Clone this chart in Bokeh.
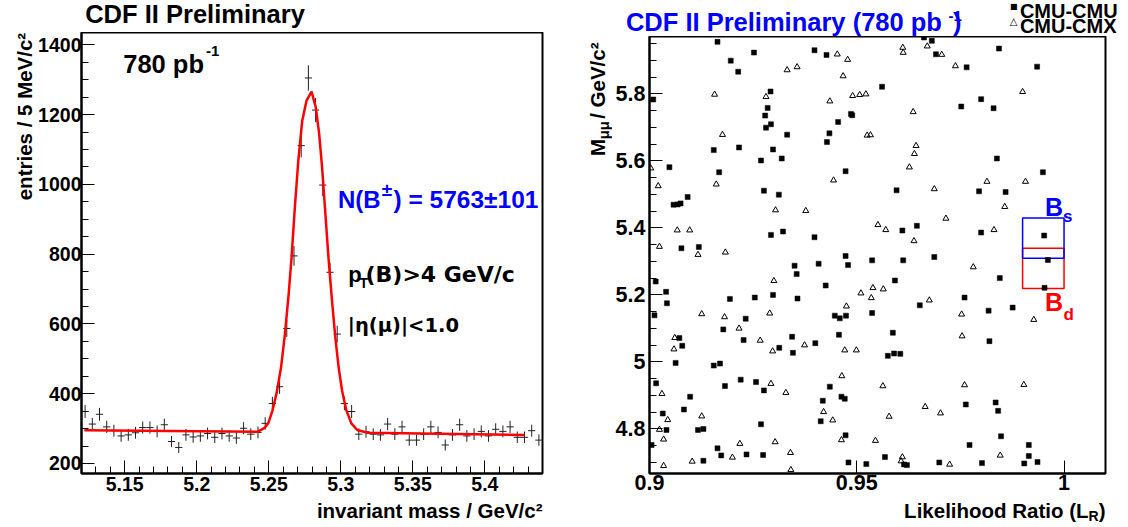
import numpy as np
from bokeh.plotting import figure
from bokeh.models import Range1d, FixedTicker, CustomJSTickFormatter, Label
from bokeh.layouts import row, column
from bokeh.embed import file_html
from bokeh.resources import INLINE

# ---------------- left panel data: B+ -> J/psi K+ mass histogram ----------------
bin_lo, bin_hi, bin_w = 5.12, 5.44, 0.005
counts = [349, 313, 341, 305, 294, 279, 282, 288, 303, 303, 292, 311, 263, 246, 282, 276,
          279, 286, 275, 286, 279, 273, 301, 284, 289, 315, 372, 420, 587, 795, 1111, 1305,
          1213, 998, 748, 571, 372, 349, 284, 291, 284, 282, 313, 284, 305, 267, 267, 284,
          305, 289, 253, 282, 311, 279, 284, 292, 279, 298, 292, 305, 275, 275, 294, 267]
fit_mass = [5.1220, 5.2422, 5.2474, 5.2498, 5.2525, 5.2555, 5.2585, 5.2612, 5.2638, 5.2658,
            5.2681, 5.2705, 5.2732, 5.2762, 5.2797, 5.2826, 5.2850, 5.2870, 5.2893, 5.2916,
            5.2939, 5.2962, 5.2985, 5.3009, 5.3038, 5.3073, 5.3114, 5.3188, 5.4276]
fit_val = [295.5, 290.8, 303, 317, 351, 403, 475, 571, 685, 790,
           934, 1068, 1182, 1240, 1266, 1221, 1144, 1049, 915, 781,
           666, 561, 475, 408, 353, 315, 296, 288, 282]
left_x_ticks = [5.15, 5.2, 5.25, 5.3, 5.35, 5.4]
left_y_ticks = [200, 400, 600, 800, 1000, 1200, 1400]

# ---------------- right panel data: M_mumu vs likelihood ratio ----------------
sq_lr = [0.9164, 0.9196, 0.9214, 0.9252, 0.9398, 0.9427, 0.9662, 0.9681, 0.9691, 0.9765, 0.9843, 0.9935,
         0.9009, 0.9292, 0.9561, 0.9800, 0.9285, 0.9279, 0.9293, 0.9281, 0.9486, 0.9489, 0.9455, 0.9752, 0.9830,
         0.9434, 0.9332, 0.9428, 0.9155, 0.9216, 0.9298, 0.9269, 0.9319, 0.9048, 0.9168, 0.9473, 0.9838, 0.9949,
         0.9276, 0.9312, 0.9596, 0.9795, 0.9859, 0.9092, 0.9058, 0.9068, 0.9075, 0.9293, 0.9322, 0.9398, 0.9610,
         0.9645, 0.9800, 0.9952, 0.9077, 0.9119, 0.9473, 0.9537, 0.9612, 0.9687, 0.9961, 0.9408, 0.9350, 0.9479,
         0.9355, 0.9845, 0.9015, 0.9592, 0.9040, 0.9425, 0.9298, 0.9194, 0.9254, 0.9357, 0.9760, 0.9953, 0.9042,
         0.9652, 0.9818, 0.9876, 0.9012, 0.9232, 0.9447, 0.9474, 0.9459, 0.9537, 0.9178, 0.9072, 0.9227, 0.9344,
         0.9457, 0.9587, 0.9400, 0.9820, 0.9079, 0.9313, 0.9346, 0.9575, 0.9590, 0.9605, 0.9063, 0.9155, 0.9170,
         0.9016, 0.9182, 0.9220, 0.9257, 0.9276, 0.9435, 0.9098, 0.9463, 0.9471, 0.9418, 0.9835, 0.9763, 0.9083,
         0.9841, 0.9032, 0.9413, 0.9269, 0.9041, 0.9117, 0.9130, 0.9473, 0.9848, 0.9005, 0.9164, 0.9772, 0.9915,
         0.9173, 0.9234, 0.9274, 0.9130, 0.9568, 0.9915, 0.9480, 0.9523, 0.9614, 0.9621, 0.9699, 0.9802, 0.9904, 0.9936]
sq_m = [5.955, 5.899, 5.866, 5.923, 5.930, 5.916, 5.968, 5.958, 5.918, 5.879, 5.935, 5.881,
        5.783, 5.807, 5.821, 5.784, 5.758, 5.735, 5.709, 5.699, 5.740, 5.736, 5.716, 5.762, 5.757,
        5.682, 5.678, 5.656, 5.632, 5.640, 5.634, 5.601, 5.607, 5.581, 5.566, 5.569, 5.607, 5.566,
        5.511, 5.499, 5.512, 5.509, 5.507, 5.492, 5.469, 5.470, 5.473, 5.379, 5.389, 5.372, 5.392,
        5.406, 5.386, 5.377, 5.339, 5.343, 5.316, 5.303, 5.303, 5.313, 5.304, 5.293, 5.287, 5.289,
        5.262, 5.250, 5.240, 5.243, 5.209, 5.228, 5.200, 5.188, 5.192, 5.189, 5.192, 5.221, 5.175,
        5.169, 5.153, 5.162, 5.139, 5.129, 5.138, 5.138, 5.130, 5.146, 5.097, 5.071, 5.065, 5.075,
        5.081, 5.087, 5.056, 5.062, 5.048, 5.042, 5.027, 5.018, 5.025, 5.024, 4.997, 4.989, 4.995,
        4.936, 4.928, 4.947, 4.940, 4.915, 4.926, 4.896, 4.896, 4.890, 4.884, 4.879, 4.873, 4.858,
        4.854, 4.846, 4.823, 4.814, 4.797, 4.797, 4.800, 4.781, 4.778, 4.752, 4.742, 4.752, 4.752,
        4.721, 4.724, 4.722, 4.705, 4.716, 4.719, 4.700, 4.695, 4.694, 4.692, 4.700, 4.698, 4.697, 4.701]
tri_lr = [0.9611, 0.9612, 0.9453, 0.9478, 0.9670, 0.9705, 0.9738, 0.9332, 0.9356, 0.9467,
          0.9157, 0.9281, 0.9435, 0.9490, 0.9507, 0.9522, 0.9900, 0.9636, 0.9176, 0.9525,
          0.9533, 0.9643, 0.9639, 0.9627, 0.9003, 0.9021, 0.9161, 0.9444, 0.9687, 0.9814,
          0.9907, 0.9304, 0.9377, 0.9857, 0.9551, 0.9570, 0.9715, 0.9067, 0.9097, 0.9831,
          0.9638, 0.9024, 0.9117, 0.9183, 0.9781, 0.9300, 0.9539, 0.9564, 0.9510, 0.9535,
          0.9675, 0.9475, 0.9126, 0.9290, 0.9181, 0.9753, 0.9927, 0.9216, 0.9061, 0.9754,
          0.9267, 0.9059, 0.9297, 0.9374, 0.9471, 0.9499, 0.9464, 0.9293, 0.9563, 0.9760,
          0.9903, 0.9030, 0.9329, 0.9126, 0.9665, 0.9702, 0.9420, 0.9442, 0.9578, 0.9044,
          0.9024, 0.9034, 0.9303, 0.9463, 0.9545, 0.9218, 0.9340, 0.9200, 0.9103, 0.9610,
          0.9607, 0.9724, 0.9846, 0.9034, 0.9341]
tri_m = [5.938, 5.923, 5.918, 5.902, 5.942, 5.917, 5.883, 5.871, 5.880, 5.853,
         5.798, 5.791, 5.778, 5.794, 5.797, 5.799, 5.806, 5.746, 5.678, 5.676,
         5.677, 5.645, 5.621, 5.581, 5.578, 5.525, 5.530, 5.542, 5.516, 5.538,
         5.538, 5.453, 5.451, 5.463, 5.409, 5.394, 5.428, 5.393, 5.393, 5.394,
         5.361, 5.344, 5.320, 5.327, 5.283, 5.242, 5.221, 5.217, 5.205, 5.191,
         5.184, 5.166, 5.143, 5.145, 5.134, 5.142, 5.126, 5.100, 5.072, 5.077,
         5.064, 5.038, 5.032, 5.050, 5.035, 5.035, 4.958, 4.935, 4.928, 4.931,
         4.932, 4.905, 4.908, 4.838, 4.866, 4.847, 4.851, 4.826, 4.837, 4.827,
         4.798, 4.769, 4.761, 4.767, 4.765, 4.756, 4.729, 4.715, 4.703, 4.716,
         4.704, 4.694, 4.721, 4.690, 4.678]
bs_mass, bd_mass, mass_window = 5.3696, 5.2794, 0.06
signal_lr_cut = [0.99, 1.0]
right_x_ticks = [0.9, 0.95, 1.0]
right_y_ticks = [4.8, 5.0, 5.2, 5.4, 5.6, 5.8]

FONT = "Liberation Sans"
WIDE = "DejaVu Sans"
BLUE = "#0000ff"
RED = "#ff0000"
K = 0.33   # measured offset of the rendered baseline below the label anchor, in em
BOTTOM = 25  # height reserved under each frame for the tick labels


def make_fmt():
    return CustomJSTickFormatter(code="return String(Math.round(tick*1000)/1000);")


def style(p, fs, xstand, ystand):
    p.outline_line_color = "black"
    p.outline_line_width = 2
    p.xgrid.visible = False
    p.ygrid.visible = False
    p.background_fill_color = "white"
    p.border_fill_color = "white"
    for ax, st in ((p.xaxis[0], xstand), (p.yaxis[0], ystand)):
        ax.axis_line_color = "black"
        ax.axis_line_width = 2
        ax.major_tick_in = 13
        ax.major_tick_out = 0
        ax.minor_tick_in = 7
        ax.minor_tick_out = 0
        ax.major_tick_line_color = "black"
        ax.minor_tick_line_color = "black"
        ax.major_tick_line_width = 1
        ax.minor_tick_line_width = 1
        ax.major_label_text_font = FONT
        ax.major_label_text_font_style = "bold"
        ax.major_label_text_font_size = fs
        ax.major_label_text_color = "black"
        ax.major_label_standoff = st
        ax.formatter = make_fmt()


def blank(w, h, bottom=0):
    """Text-only strip: its frame fills the canvas (less `bottom`); data units = pixels, y down."""
    f = figure(width=w, height=h, output_backend="svg", toolbar_location=None, title=None,
               x_range=Range1d(0, w), y_range=Range1d(h - bottom, 0),
               x_axis_location=None, y_axis_location=None,
               min_border_left=0, min_border_right=0, min_border_top=0, min_border_bottom=bottom)
    f.outline_line_color = None
    f.background_fill_color = "white"
    f.border_fill_color = "white"
    f.grid.visible = False
    return f


def _label(p, x, y, text, fs, units, color="black", align="left", baseline="alphabetic",
           angle=0.0, font=FONT, fstyle="bold"):
    p.add_layout(Label(x=x, y=y, x_units=units, y_units=units, text=text,
                       text_font=font, text_font_style=fstyle, text_font_size=f"{fs}px",
                       text_color=color, text_align=align, text_baseline=baseline,
                       angle=angle))


def flab(p, x, y, text, fs, **kw):
    """Label inside a plot frame: x, y = wanted baseline point (px from frame bottom-left)."""
    _label(p, x, y + K * fs, text, fs, "screen", **kw)


def hlab(f, x, y, text, fs, rot=False, **kw):
    """Label in a text strip: x, y = wanted baseline point (px from strip frame top-left)."""
    if rot:
        _label(f, x - K * fs, y, text, fs, "data", angle=np.pi / 2, **kw)
    else:
        _label(f, x, y - K * fs, text, fs, "data", **kw)


# ======================= LEFT PANEL =======================
L_top = blank(560, 32)
hlab(L_top, 84.7, 21.7, "CDF II Preliminary", 25.5)

H1 = 441 + BOTTOM
L_ytit = blank(35, H1, bottom=BOTTOM)
hlab(L_ytit, 30.5, 0.3, "entries / 5 MeV/c\u00b2", 20.5, rot=True, align="right")

p1 = figure(width=525, height=H1, output_backend="svg", toolbar_location=None, title=None,
            x_range=Range1d(bin_lo, bin_hi), y_range=Range1d(171.3, 1435.3),
            min_border_left=44, min_border_right=18, min_border_top=0, min_border_bottom=BOTTOM)
style(p1, "19.5px", 3, 0)
p1.xaxis.ticker = FixedTicker(ticks=left_x_ticks,
                              minor_ticks=list(np.round(np.arange(5.12, 5.4401, 0.01), 3)))
p1.yaxis.ticker = FixedTicker(ticks=left_y_ticks, minor_ticks=list(range(200, 1451, 50)))

centres = np.round(bin_lo + bin_w / 2 + bin_w * np.arange(len(counts)), 4)
cnt = np.array(counts, dtype=float)
err = np.sqrt(cnt)
p1.segment(x0=centres - bin_w / 2, x1=centres + bin_w / 2, y0=cnt, y1=cnt,
           line_color="#222222", line_width=1)
p1.segment(x0=centres, x1=centres, y0=cnt - err, y1=cnt + err,
           line_color="#222222", line_width=1)
p1.line(fit_mass, fit_val, line_color=RED, line_width=2.5)

flab(p1, 41.7, 401.3, "780 pb", 25.5)
flab(p1, 124.5, 417.5, "-1", 15)
flab(p1, 256.5, 266.3, "N(B", 24, color=BLUE)
flab(p1, 300.3, 278, "\u00b1", 19, color=BLUE)
flab(p1, 312, 266.3, ") = 5763\u00b1101", 24.5, color=BLUE)
flab(p1, 266.8, 191.3, "p", 22)
flab(p1, 278, 186.3, "T", 14)
flab(p1, 284, 191.3, "(B)>4 GeV/c", 22, font=WIDE)
flab(p1, 266.3, 141.3, "|\u03b7(\u03bc)|<1.0", 19.5, font=WIDE)

L_bot = blank(560, 524 - (32 + H1))          # page y 498 .. 524
hlab(L_bot, 542, 18.8, "invariant mass / GeV/c\u00b2", 20.5, align="right")

left_col = column(L_top, row(L_ytit, p1), L_bot)

# ======================= RIGHT PANEL =======================
R_top = blank(564, 36)
hlab(R_top, 65.4, 30, "CDF II Preliminary (780 pb", 25.5, color=BLUE)
hlab(R_top, 388, 20, "-1", 15, color=BLUE)
hlab(R_top, 392.5, 30, ")", 25.5, color=BLUE)
_label(R_top, 453.3, 5.8, "\u25a0", 8, "data", align="center", baseline="middle", font=WIDE, fstyle="normal")
hlab(R_top, 459.4, 17.2, "CMU-CMU", 20)
_label(R_top, 453, 20.8, "\u25b3", 10, "data", align="center", baseline="middle", font=WIDE, fstyle="normal")
hlab(R_top, 459.4, 31.7, "CMU-CMX", 20)

H2 = 437 + BOTTOM
R_ytit = blank(52, H2, bottom=BOTTOM)        # frame top = page y 36, left = page x 560
hlab(R_ytit, 44, 0.3, " / GeV/c\u00b2", 20.5, rot=True, align="right")
hlab(R_ytit, 47.5, 84.5, "\u03bc\u03bc", 15, rot=True, align="right")
hlab(R_ytit, 44, 102.5, "M", 20.5, rot=True, align="right")

p2 = figure(width=512, height=H2, output_backend="svg", toolbar_location=None, title=None,
            x_range=Range1d(0.9, 1.01), y_range=Range1d(4.667, 5.971),
            min_border_left=34, min_border_right=19, min_border_top=0, min_border_bottom=BOTTOM)
style(p2, "21.5px", 1, 4)
p2.xaxis.ticker = FixedTicker(ticks=right_x_ticks, minor_ticks=[])
p2.yaxis.ticker = FixedTicker(ticks=right_y_ticks,
                              minor_ticks=list(np.round(np.arange(4.7, 5.971, 0.05), 3)))

p2.quad(left=signal_lr_cut[0], right=signal_lr_cut[1],
        bottom=bd_mass - mass_window, top=bd_mass + mass_window,
        fill_color=None, line_color=RED, line_width=1.5)
p2.quad(left=signal_lr_cut[0], right=signal_lr_cut[1],
        bottom=bs_mass - mass_window, top=bs_mass + mass_window,
        fill_color=None, line_color=BLUE, line_width=1.5)
p2.scatter(sq_lr, sq_m, marker="square", size=5, fill_color="black", line_color="black", line_width=0.5)
p2.scatter(tri_lr, tri_m, marker="triangle", size=6, fill_color=None, line_color="black", line_width=1)

flab(p2, 395.5, 258, "B", 25, color=BLUE)
flab(p2, 413.5, 251.3, "s", 17, color=BLUE)
flab(p2, 395.5, 163, "B", 25, color=RED)
flab(p2, 414, 153, "d", 17, color=RED)

R_bot = blank(564, 524 - (36 + H2))          # page y 498 .. 524
hlab(R_bot, 545, 18.8, ")", 20.5, align="right")
hlab(R_bot, 538.2, 22.3, "R", 14, align="right")
hlab(R_bot, 528.1, 18.8, "Likelihood Ratio (L", 20.5, align="right")

right_col = column(R_top, row(R_ytit, p2), R_bot)

layout = row(left_col, right_col)
open("out.html", "w").write(file_html(layout, INLINE))
